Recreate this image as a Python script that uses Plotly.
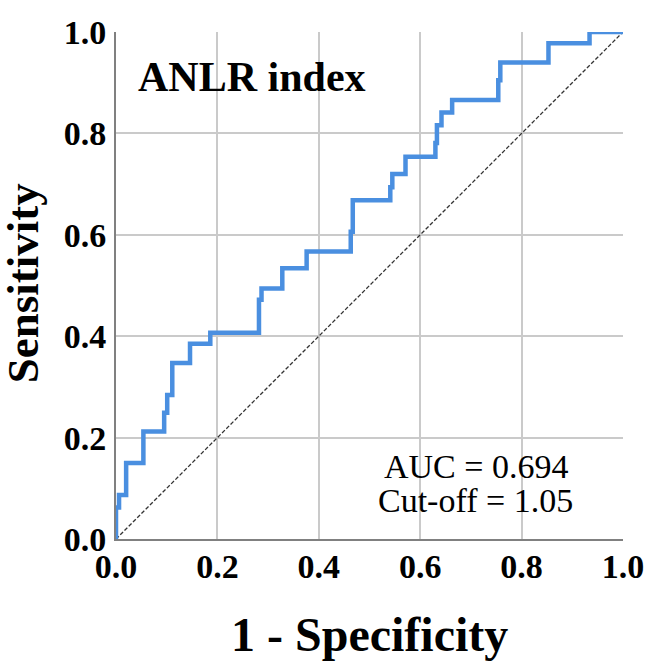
import plotly.graph_objects as go

# ROC curve step points (1 - specificity, sensitivity)
fpr = [0.0, 0.0, 0.006, 0.006, 0.020, 0.020, 0.054, 0.054, 0.095, 0.095, 0.101, 0.101,
       0.111, 0.111, 0.146, 0.146, 0.186, 0.186, 0.282, 0.282, 0.287, 0.287, 0.328, 0.328,
       0.376, 0.376, 0.463, 0.463, 0.467, 0.467, 0.541, 0.541, 0.545, 0.545, 0.571, 0.571,
       0.630, 0.630, 0.633, 0.633, 0.642, 0.642, 0.663, 0.663, 0.754, 0.754, 0.758, 0.758,
       0.853, 0.853, 0.934, 0.934, 1.0]
tpr = [0.0, 0.062, 0.062, 0.087, 0.087, 0.150, 0.150, 0.212, 0.212, 0.249, 0.249, 0.284,
       0.284, 0.347, 0.347, 0.385, 0.385, 0.407, 0.407, 0.472, 0.472, 0.494, 0.494, 0.534,
       0.534, 0.567, 0.567, 0.606, 0.606, 0.668, 0.668, 0.694, 0.694, 0.720, 0.720, 0.754,
       0.754, 0.781, 0.781, 0.816, 0.816, 0.841, 0.841, 0.866, 0.866, 0.905, 0.905, 0.940,
       0.940, 0.978, 0.978, 1.0, 1.0]

ref_x = [0.0, 1.0]
ref_y = [0.0, 1.0]

tick_vals = [0.0, 0.2, 0.4, 0.6, 0.8, 1.0]
tick_text = ["0.0", "0.2", "0.4", "0.6", "0.8", "1.0"]

title_text = "ANLR index"
auc_text = "AUC = 0.694"
cutoff_text = "Cut-off = 1.05"

serif = "Liberation Serif, Times New Roman, serif"

fig = go.Figure()
fig.add_trace(go.Scatter(x=ref_x, y=ref_y, mode="lines",
                         line=dict(color="#333333", width=1.3, dash="4px,2px"),
                         showlegend=False, hoverinfo="skip"))
fig.add_trace(go.Scatter(x=fpr, y=tpr, mode="lines",
                         line=dict(color="#4a8fe0", width=4.5),
                         showlegend=False, cliponaxis=False))

axis_common = dict(range=[0, 1], tickvals=tick_vals, ticktext=tick_text,
                   showgrid=True, gridcolor="#cacaca", gridwidth=2,
                   zeroline=False, showline=True, linecolor="#808080", linewidth=2,
                   tickfont=dict(family=serif, size=34, color="black", weight="bold"),
                   fixedrange=True, automargin=False, ticks="")

fig.update_layout(
    width=646, height=661,
    margin=dict(l=116, r=23, t=32, b=122),
    paper_bgcolor="white", plot_bgcolor="white",
    xaxis=dict(**axis_common, ticklabelstandoff=-4),
    yaxis=dict(**axis_common, ticklabelstandoff=1),
    annotations=[
        dict(text=title_text, x=0.04, y=0.911, xref="paper", yref="paper",
             xanchor="left", yanchor="middle", showarrow=False,
             font=dict(family=serif, size=42, color="black", weight="bold")),
        dict(text=auc_text, x=0.71, y=0.143, xref="paper", yref="paper",
             xanchor="center", yanchor="middle", showarrow=False,
             font=dict(family=serif, size=34, color="black")),
        dict(text=cutoff_text, x=0.71, y=0.075, xref="paper", yref="paper",
             xanchor="center", yanchor="middle", showarrow=False,
             font=dict(family=serif, size=34, color="black")),
        dict(text="1 - Specificity", x=0.5, y=-0.188, xref="paper", yref="paper",
             xanchor="center", yanchor="middle", showarrow=False,
             font=dict(family=serif, size=48, color="black", weight="bold")),
        dict(text="Sensitivity", x=-0.183, y=0.505, xref="paper", yref="paper",
             xanchor="center", yanchor="middle", showarrow=False, textangle=-90,
             font=dict(family=serif, size=45, color="black", weight="bold")),
    ],
)

fig.write_html("out.html",
               config={"displayModeBar": False},
               post_script="document.body.style.margin='0px';document.body.style.overflow='hidden';")
